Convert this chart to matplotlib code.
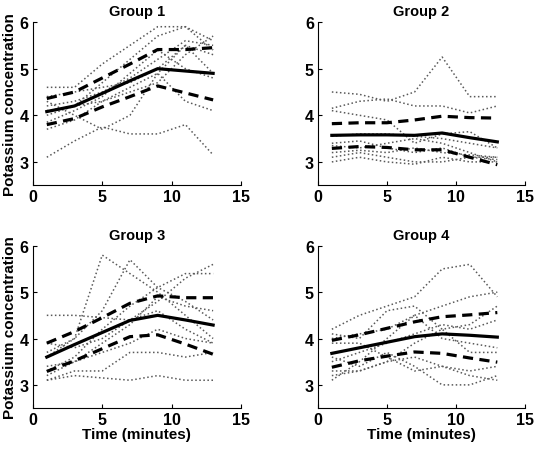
import numpy as np
import matplotlib
matplotlib.use("Agg")
import matplotlib.pyplot as plt

plt.rcParams['font.family'] = ['Liberation Sans', 'DejaVu Sans']
plt.rcParams['font.weight'] = 'bold'

# sampling times (minutes)
tid = [1, 3, 5, 7, 9, 11, 13]

# individual curves per group
gruppe1 = [
    [3.1, 3.45, 3.75, 3.6, 3.6, 3.8, 3.15],
    [4.6, 4.6, 5.1, 5.5, 5.9, 5.9, 5.6],
    [4.0, 4.2, 4.7, 5.2, 5.7, 5.9, 5.4],
    [4.3, 4.0, 3.7, 4.0, 4.9, 5.5, 5.3],
    [3.7, 3.9, 4.3, 4.6, 4.9, 4.3, 4.1],
    [4.2, 4.3, 4.5, 4.8, 5.2, 5.6, 5.5],
    [3.85, 4.1, 4.4, 4.9, 5.4, 5.0, 4.8],
    [4.4, 4.5, 4.6, 4.7, 5.0, 5.5, 4.9],
    [4.1, 4.2, 4.3, 4.5, 4.7, 5.3, 5.7],
]
gruppe2 = [
    [4.5, 4.45, 4.3, 4.5, 5.25, 4.4, 4.4],
    [4.15, 4.3, 4.35, 4.2, 4.2, 4.05, 4.2],
    [4.1, 4.0, 3.9, 3.4, 3.6, 3.65, 3.3],
    [3.55, 3.6, 3.6, 3.55, 3.5, 3.4, 3.3],
    [3.4, 3.45, 3.3, 3.2, 3.3, 3.1, 3.1],
    [3.2, 3.25, 3.2, 3.3, 3.2, 3.15, 3.1],
    [3.0, 3.1, 3.0, 2.95, 3.1, 3.0, 3.0],
    [3.1, 3.2, 3.1, 3.0, 3.0, 3.1, 3.05],
    [3.35, 3.3, 3.4, 3.5, 3.4, 3.2, 3.0],
]
gruppe3 = [
    [4.5, 4.5, 4.45, 4.4, 4.8, 5.3, 5.6],
    [3.6, 4.0, 5.8, 5.4, 5.0, 4.5, 4.0],
    [3.7, 4.0, 4.6, 5.7, 5.1, 4.8, 4.4],
    [3.3, 3.6, 4.2, 4.7, 5.1, 5.4, 5.4],
    [3.1, 3.3, 3.3, 3.7, 3.7, 3.6, 3.7],
    [3.1, 3.2, 3.15, 3.1, 3.2, 3.1, 3.1],
    [3.9, 3.8, 4.0, 4.4, 4.6, 4.2, 3.9],
    [3.4, 3.5, 3.9, 4.3, 4.9, 4.7, 4.6],
    [3.2, 3.5, 3.7, 3.9, 4.2, 4.0, 3.9],
]
gruppe4 = [
    [4.2, 4.5, 4.7, 4.9, 5.5, 5.6, 4.9],
    [3.1, 3.5, 4.0, 4.5, 4.7, 4.9, 5.0],
    [4.1, 4.0, 4.6, 4.7, 4.2, 4.3, 4.7],
    [3.6, 3.4, 3.7, 3.4, 3.0, 3.0, 3.2],
    [3.9, 3.9, 3.6, 3.3, 3.4, 3.3, 3.4],
    [3.3, 3.3, 3.5, 3.9, 4.2, 3.7, 3.7],
    [4.0, 4.1, 4.2, 4.5, 4.0, 3.9, 3.8],
    [3.5, 3.7, 3.9, 4.1, 4.3, 4.2, 4.4],
    [3.2, 3.3, 3.5, 3.6, 3.4, 3.2, 3.1],
]

# mean and band (upper / lower dashed)
middel = [
    [4.08, 4.2, 4.47, 4.74, 5.0, 4.95, 4.9],
    [3.57, 3.58, 3.58, 3.57, 3.62, 3.52, 3.43],
    [3.6, 3.87, 4.13, 4.39, 4.5, 4.4, 4.29],
    [3.68, 3.8, 3.92, 4.04, 4.1, 4.07, 4.03],
]
oevre = [
    [4.36, 4.5, 4.8, 5.1, 5.41, 5.41, 5.45],
    [3.82, 3.84, 3.84, 3.9, 3.98, 3.95, 3.94],
    [3.9, 4.15, 4.45, 4.76, 4.92, 4.88, 4.88],
    [3.96, 4.08, 4.22, 4.36, 4.47, 4.51, 4.56],
]
nedre = [
    [3.8, 3.93, 4.18, 4.4, 4.63, 4.48, 4.33],
    [3.29, 3.33, 3.31, 3.26, 3.26, 3.1, 2.94],
    [3.29, 3.52, 3.78, 4.04, 4.08, 3.88, 3.66],
    [3.38, 3.52, 3.62, 3.71, 3.68, 3.58, 3.49],
]

titler = ["Group 1", "Group 2", "Group 3", "Group 4"]
grupper = [gruppe1, gruppe2, gruppe3, gruppe4]

fig = plt.figure(figsize=(5.4, 4.52), dpi=100)
pos = [
    [0.061, 0.588, 0.385, 0.361],
    [0.589, 0.588, 0.383, 0.361],
    [0.061, 0.095, 0.385, 0.359],
    [0.589, 0.095, 0.383, 0.359],
]

for k in range(4):
    ax = fig.add_axes(pos[k])
    for kurve in grupper[k]:
        ax.plot(tid, kurve, linestyle=':', color='0.35', linewidth=1.1)
    ax.plot(tid, middel[k], '-', color='black', linewidth=2.3)
    ax.plot(tid, oevre[k], color='black', linewidth=2.3, dashes=(3.2, 2.0))
    ax.plot(tid, nedre[k], color='black', linewidth=2.3, dashes=(3.2, 2.0))
    ax.set_xlim(0, 15)
    ax.set_ylim(2.5, 6)
    ax.set_xticks([0, 5, 10, 15])
    ax.set_yticks([3, 4, 5, 6])
    ax.spines['top'].set_visible(False)
    ax.spines['right'].set_visible(False)
    ax.tick_params(direction='in', length=3, labelsize=11.5, pad=3)
    for lab in ax.get_xticklabels() + ax.get_yticklabels():
        lab.set_fontweight('bold')
    ax.set_title(titler[k], fontsize=10.5, fontweight='bold', pad=5)
    if k in (0, 2):
        ax.set_ylabel("Potassium concentration", fontsize=11, fontweight='bold', labelpad=2)
    if k in (2, 3):
        ax.set_xlabel("Time (minutes)", fontsize=11, fontweight='bold', labelpad=0)

fig.savefig("out.png", dpi=100)
